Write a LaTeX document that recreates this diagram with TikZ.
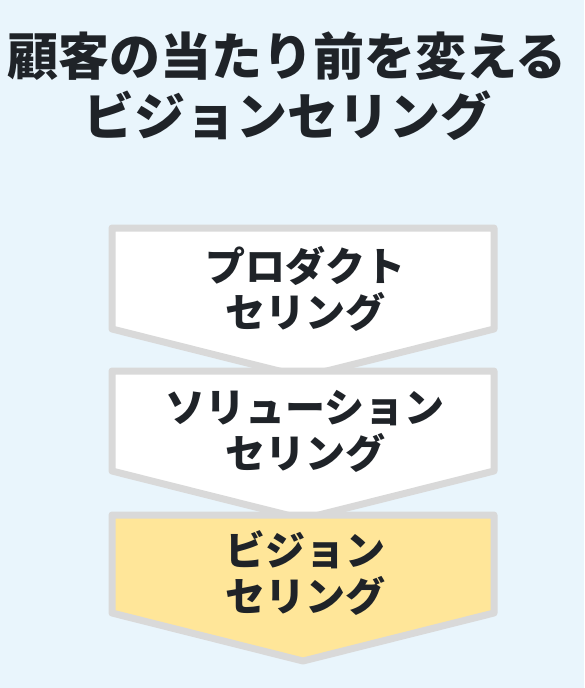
\documentclass[tikz,border=0pt]{standalone}
\usepackage{fontspec}
\newfontfamily\jp{Noto Sans CJK JP}
\definecolor{bg}{HTML}{E9F5FC}
\definecolor{edge}{HTML}{D9D9D9}
\definecolor{gold}{HTML}{FFE699}
\definecolor{ink}{HTML}{1F2328}
\begin{document}
\begin{tikzpicture}[x=1pt,y=-1pt,
  chev/.style={draw=edge,line width=7pt,line join=round},
  lbl/.style={font=\jp\bfseries\fontsize{40}{46}\selectfont,text=ink,align=center,inner sep=0pt},
  ttl/.style={font=\jp\bfseries\fontsize{51}{60}\selectfont,text=ink,align=center,inner sep=0pt}]
\useasboundingbox (0,0) rectangle (584,688);
\fill[bg] (0,0) rectangle (584,688);
\node[ttl] (title) at (287,86.5) {顧客の当たり前を変える\\ビジョンセリング};
\draw[chev,fill=white] (112,228) -- (494,228) -- (494,329) -- (303,377) -- (112,329) -- cycle;
\node[lbl] (product) at (305,288.5) {プロダクト\\セリング};
\draw[chev,fill=white] (112,371) -- (494,371) -- (494,471) -- (303,519) -- (112,471) -- cycle;
\node[lbl] (solution) at (305,431) {ソリューション\\セリング};
\draw[chev,fill=gold] (112,515) -- (494,515) -- (494,613) -- (303,661) -- (112,613) -- cycle;
\node[lbl] (vision) at (305,573) {ビジョン\\セリング};
\end{tikzpicture}
\end{document}
